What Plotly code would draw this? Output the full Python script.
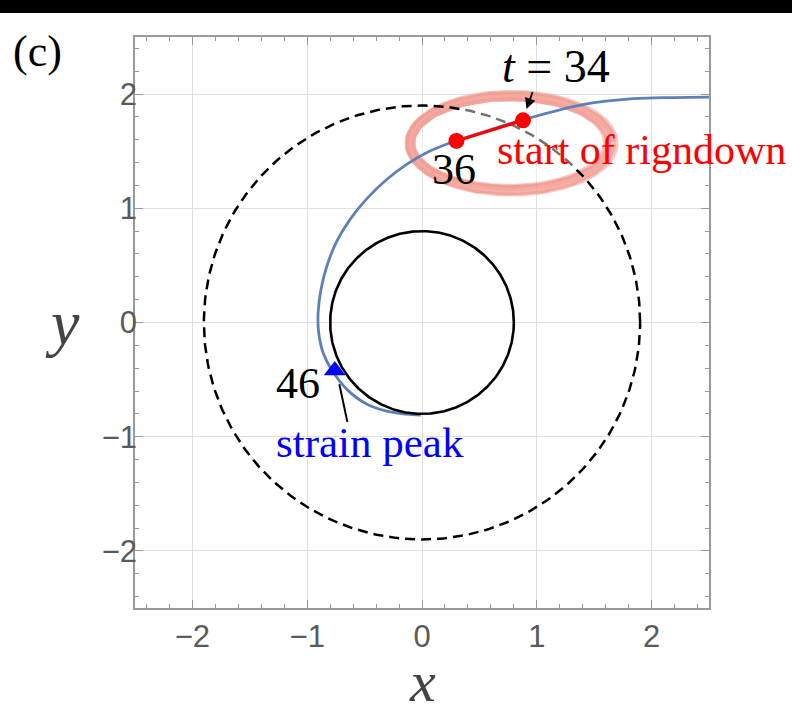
import numpy as np
import plotly.graph_objects as go

# Orbit trajectory in the (x, y) plane
traj_x = [2.60, 2.20, 1.84, 1.41, 0.88, 0.60, 0.265, 0.035, -0.14, -0.31,
          -0.48, -0.625, -0.745, -0.83, -0.88, -0.905, -0.90, -0.86, -0.79,
          -0.65, -0.47, -0.24, -0.01]
traj_y = [1.975, 1.97, 1.96, 1.91, 1.775, 1.69, 1.58, 1.485, 1.38, 1.25,
          1.085, 0.905, 0.705, 0.49, 0.29, 0.085, -0.09, -0.27, -0.41,
          -0.59, -0.72, -0.79, -0.81]

# Reference circles
r_outer = 1.9   # dashed
r_inner = 0.8   # solid

# Ringdown start segment (t = 34 -> t = 36)
ring_t = [34, 36]
ring_x = [0.88, 0.30]
ring_y = [1.77, 1.59]

# Strain peak (t = 46)
peak_t = 46
peak_x = -0.76
peak_y = -0.42

# Highlight ellipse around the ringdown start
ell_cx, ell_cy = 0.77, 1.57
ell_rx, ell_ry = 0.875, 0.415

BLUE = "#5E81B5"
theta = np.linspace(0, 2 * np.pi, 361)

fig = go.Figure()

# highlight ring (several overlapping strokes for a crayon look)
for drx, dry, dcx, dcy, w, a in [(0.0, 0.0, 0.0, 0.0, 10, 0.7),
                                  (0.04, 0.035, 0.01, 0.0, 4, 0.55),
                                  (-0.04, -0.035, -0.01, 0.005, 4, 0.55),
                                  (0.015, -0.01, 0.0, 0.01, 6, 0.35)]:
    fig.add_trace(go.Scatter(
        x=ell_cx + dcx + (ell_rx + drx) * np.cos(theta),
        y=ell_cy + dcy + (ell_ry + dry) * np.sin(theta),
        mode="lines", line=dict(color=f"rgba(241,150,138,{a})", width=w),
        hoverinfo="skip", showlegend=False))

# dashed outer circle
fig.add_trace(go.Scatter(x=r_outer * np.cos(theta), y=r_outer * np.sin(theta),
                         mode="lines",
                         line=dict(color="black", width=2.5, dash="10px,6px"),
                         hoverinfo="skip", showlegend=False))

# soft white interior of the highlight
fig.add_trace(go.Scatter(
    x=ell_cx + (ell_rx - 0.08) * np.cos(theta),
    y=ell_cy + (ell_ry - 0.07) * np.sin(theta),
    mode="lines", line=dict(width=0), fill="toself",
    fillcolor="rgba(255,255,255,0.45)", hoverinfo="skip", showlegend=False))

# trajectory
fig.add_trace(go.Scatter(x=traj_x, y=traj_y, mode="lines",
                         line=dict(color=BLUE, width=2.8, shape="spline",
                                   smoothing=1.0, simplify=False),
                         hoverinfo="skip", showlegend=False))

# solid inner circle (on top of the trajectory where they overlap)
fig.add_trace(go.Scatter(x=r_inner * np.cos(theta), y=r_inner * np.sin(theta),
                         mode="lines", line=dict(color="black", width=2.6),
                         hoverinfo="skip", showlegend=False))

# ringdown segment
fig.add_trace(go.Scatter(x=ring_x, y=ring_y, mode="lines+markers",
                         line=dict(color="red", width=3.2),
                         marker=dict(color="red", size=16),
                         hoverinfo="skip", showlegend=False))

# strain-peak leader line
fig.add_trace(go.Scatter(x=[peak_x + 0.04, peak_x + 0.11],
                         y=[peak_y - 0.12, peak_y - 0.45],
                         mode="lines", line=dict(color="black", width=2),
                         hoverinfo="skip", showlegend=False))

# strain peak marker
fig.add_trace(go.Scatter(x=[peak_x], y=[peak_y], mode="markers",
                         marker=dict(symbol="triangle-up", color="blue", size=19),
                         hoverinfo="skip", showlegend=False))

SERIF = "Liberation Serif"


def label(x, y, text, size, color="black", ref="data"):
    r = ("x", "y") if ref == "data" else ("paper", "paper")
    return dict(x=x, y=y, xref=r[0], yref=r[1], text=text, showarrow=False,
                xanchor="center", yanchor="middle",
                font=dict(family=SERIF, size=size, color=color))


ann = [
    label(1.17, 2.24, f"<i>t</i> = {ring_t[0]}", 46),
    dict(x=ring_x[0] + 0.03, y=ring_y[0] + 0.10, xref="x", yref="y",
         ax=ring_x[0] + 0.11, ay=ring_y[0] + 0.32, axref="x", ayref="y",
         text=" ", showarrow=True, arrowhead=2, arrowsize=1.2,
         arrowwidth=1.8, arrowcolor="black"),
    label(0.28, 1.34, str(ring_t[1]), 44),
    label(1.91, 1.51, "start of rigndown", 42, "red"),
    label(-1.08, -0.53, str(peak_t), 44),
    label(-0.45, -1.05, "strain peak", 43, "blue"),
    label(-0.169, 0.975, "(c)", 44, ref="paper"),
    label(0.5, -0.128, "<i>x</i>", 58, "#444", ref="paper"),
    label(-0.127, 0.5, "<i>y</i>", 64, "#444", ref="paper"),
]

axis_common = dict(
    range=[-2.5, 2.5], tickvals=[-2, -1, 0, 1, 2],
    showgrid=True, gridcolor="#e0e0e0", gridwidth=1, zeroline=False,
    showline=True, mirror="allticks", linecolor="#9a9a9a", linewidth=1.5,
    ticks="inside", ticklen=8, tickwidth=1.2, tickcolor="#9a9a9a",
    minor=dict(dtick=0.2, ticks="inside", ticklen=4, tickwidth=1,
               tickcolor="#9a9a9a", showgrid=False),
    tickfont=dict(family="Liberation Sans", size=31, color="#5a5a5a"),
)

fig.update_layout(
    width=792, height=713,
    margin=dict(l=135, r=83, t=37, b=105),
    paper_bgcolor="white", plot_bgcolor="white",
    xaxis=dict(**axis_common, ticklabelstandoff=0),
    yaxis=dict(**axis_common, ticklabelstandoff=-10),
    annotations=ann,
    shapes=[dict(type="rect", xref="paper", yref="paper",
                 x0=-0.3, x1=1.3, y0=1 + 24 / 571, y1=1.2,
                 fillcolor="black", line=dict(width=0), layer="above")],
)

fig.write_html("out.html")
